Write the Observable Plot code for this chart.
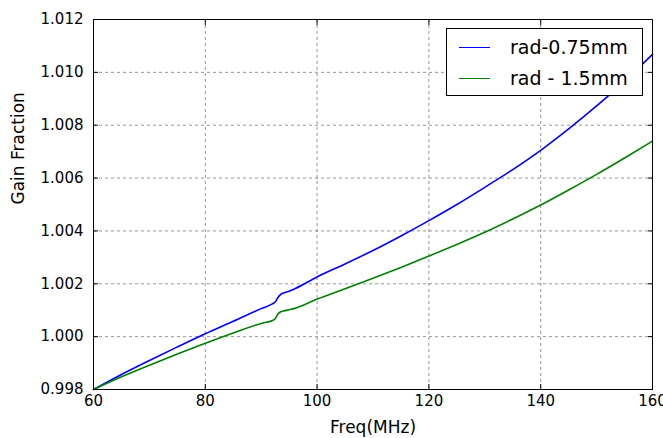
<!DOCTYPE html>
<html>
<head>
<meta charset="utf-8">
<script src="https://cdn.jsdelivr.net/npm/d3@7"></script>
<script src="https://cdn.jsdelivr.net/npm/@observablehq/plot@0.6"></script>
<style>
  html, body { margin: 0; padding: 0; background: #fff; }
  #wrap { position: relative; width: 663px; height: 438px; font-family: "DejaVu Sans", sans-serif; }
  #legend { position: absolute; left: 446px; top: 28px; width: 197px; height: 68px; border: 1px solid #000; background: #fff; box-sizing: border-box; }
  .item { position: absolute; left: 0; height: 20px; display: flex; align-items: center; font-size: 19px; color: #000; white-space: nowrap; }
  .sw { display: inline-block; width: 31px; height: 0; border-top: 1.5px solid; margin-left: 12px; margin-right: 20px; }
</style>
</head>
<body>
<div id="wrap"></div>
<script>
// Data
const freq = [60,65,70,75,80,85,90,92,92.5,93,93.5,94,95,96,100,105,110,115,120,125,130,135,140,145,150,155,160];
const gain075 = [0.99800,0.99857,0.99910,0.99961,1.00011,1.00058,1.00106,1.00124,1.00131,1.00148,1.00160,1.00165,1.00172,1.00181,1.00226,1.00275,1.00326,1.00381,1.00439,1.00500,1.00565,1.00632,1.00705,1.00786,1.00873,1.00966,1.01068];
const gain15 = [0.99800,0.99848,0.99892,0.99934,0.99975,1.00014,1.00050,1.00061,1.00068,1.00086,1.00094,1.00097,1.00102,1.00107,1.00142,1.00181,1.00221,1.00262,1.00305,1.00349,1.00395,1.00445,1.00498,1.00555,1.00614,1.00676,1.00740];
const seriesNames = ["rad-0.75mm", "rad - 1.5mm"];
const seriesColors = ["#0000ff", "#008000"];
const xTicks = [60, 80, 100, 120, 140, 160];
const yTicks = [0.998, 1.000, 1.002, 1.004, 1.006, 1.008, 1.010, 1.012];
const xTitle = "Freq(MHz)";
const yTitle = "Gain Fraction";

const rows075 = freq.map((f, i) => ({f, g: gain075[i]}));
const rows15 = freq.map((f, i) => ({f, g: gain15[i]}));

const fmt = d3.format(".3f");
const grid = {stroke: "#000", strokeOpacity: 0.42, strokeDasharray: "3,3"};

const chart = Plot.plot({
  width: 663,
  height: 438,
  marginLeft: 93,
  marginRight: 11,
  marginTop: 19,
  marginBottom: 49,
  style: {fontFamily: "DejaVu Sans, sans-serif", fontSize: "15px", color: "#000", background: "#fff"},
  x: {domain: [60, 160]},
  y: {domain: [0.998, 1.012]},
  marks: [
    Plot.gridX(xTicks, grid),
    Plot.gridY(yTicks, grid),
    Plot.line(rows075, {x: "f", y: "g", stroke: seriesColors[0], strokeWidth: 1.6, curve: "monotone-x"}),
    Plot.line(rows15, {x: "f", y: "g", stroke: seriesColors[1], strokeWidth: 1.6, curve: "monotone-x"}),
    Plot.axisX(xTicks, {anchor: "bottom", tickSize: -5, tickPadding: 11, label: null}),
    Plot.axisX(xTicks, {anchor: "top", tickSize: -5, tickFormat: () => "", label: null}),
    Plot.axisY(yTicks, {anchor: "left", tickSize: -5, tickPadding: 15, tickFormat: fmt, label: null}),
    Plot.axisY(yTicks, {anchor: "right", tickSize: -5, tickFormat: () => "", label: null}),
    Plot.text([xTitle], {frameAnchor: "bottom", dy: 38, fontSize: 17, lineAnchor: "middle", fill: "#000"}),
    Plot.text([yTitle], {frameAnchor: "left", dx: -75, rotate: -90, fontSize: 17, lineAnchor: "middle", fill: "#000"}),
    Plot.frame({stroke: "#000", strokeWidth: 1})
  ]
});

const wrap = document.getElementById("wrap");
wrap.appendChild(chart);

const legend = document.createElement("div");
legend.id = "legend";
seriesNames.forEach((name, i) => {
  const item = document.createElement("div");
  item.className = "item";
  item.style.top = (i === 0 ? 8 : 39) + "px";
  const sw = document.createElement("span");
  sw.className = "sw";
  sw.style.borderColor = seriesColors[i];
  const t = document.createElement("span");
  t.textContent = name;
  item.appendChild(sw);
  item.appendChild(t);
  legend.appendChild(item);
});
wrap.appendChild(legend);
</script>
</body>
</html>
